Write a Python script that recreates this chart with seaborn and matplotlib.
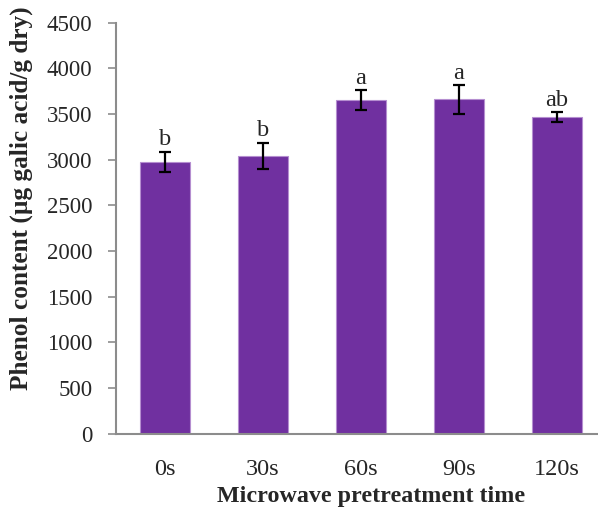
import matplotlib
matplotlib.use("Agg")
import matplotlib.pyplot as plt
import seaborn as sns
import pandas as pd

# Total phenol content by microwave pretreatment time
times = ["0s", "30s", "60s", "90s", "120s"]
phenol = [2975, 3045, 3650, 3660, 3467]
sd = [113, 142, 110, 157, 50]
letters = ["b", "b", "a", "a", "ab"]

df = pd.DataFrame({"time": times, "phenol": phenol})

sns.set_theme(style="white")
plt.rcParams["font.family"] = ["Liberation Serif", "DejaVu Serif"]

fig = plt.figure(figsize=(5.98, 5.12), dpi=100)
ax = fig.add_axes([0.194, 0.153, 0.8194, 0.8027])

bar_color = "#7030A0"
sns.barplot(data=df, x="time", y="phenol", color=bar_color, width=0.51,
            saturation=1, edgecolor="#B58ED0", linewidth=0.8, ax=ax, errorbar=None)

ax.errorbar(range(len(times)), phenol, yerr=sd, fmt="none", ecolor="black",
            elinewidth=1.6, capsize=4.5, capthick=1.6, zorder=5)

for i, (v, e, lab) in enumerate(zip(phenol, sd, letters)):
    ax.annotate(lab, xy=(i, v + e), xytext=(0, 1), textcoords="offset points",
                ha="center", va="bottom", fontsize=17.5)

ax.set_xlim(-0.5, 4.5)
ax.set_ylim(0, 4500)
ax.set_yticks(range(0, 4501, 500))
ax.tick_params(axis="y", which="both", left=True, length=6, width=1.2,
               color="#8C8C8C", labelsize=16.5, pad=11)
ax.tick_params(axis="x", bottom=False, labelsize=17.5, pad=12)

for side in ["top", "right"]:
    ax.spines[side].set_visible(False)
for side in ["left", "bottom"]:
    ax.spines[side].set_color("#8C8C8C")
    ax.spines[side].set_linewidth(1.5)

ax.set_xlabel("Microwave pretreatment time", fontsize=17.3, fontweight="bold")
ax.set_ylabel("Phenol content (µg galic acid/g dry)", fontsize=18.2, fontweight="bold")
ax.xaxis.set_label_coords(0.52, -0.127)
ax.yaxis.set_label_coords(-0.169, 0.572)

fig.savefig("out.png", dpi=100)
